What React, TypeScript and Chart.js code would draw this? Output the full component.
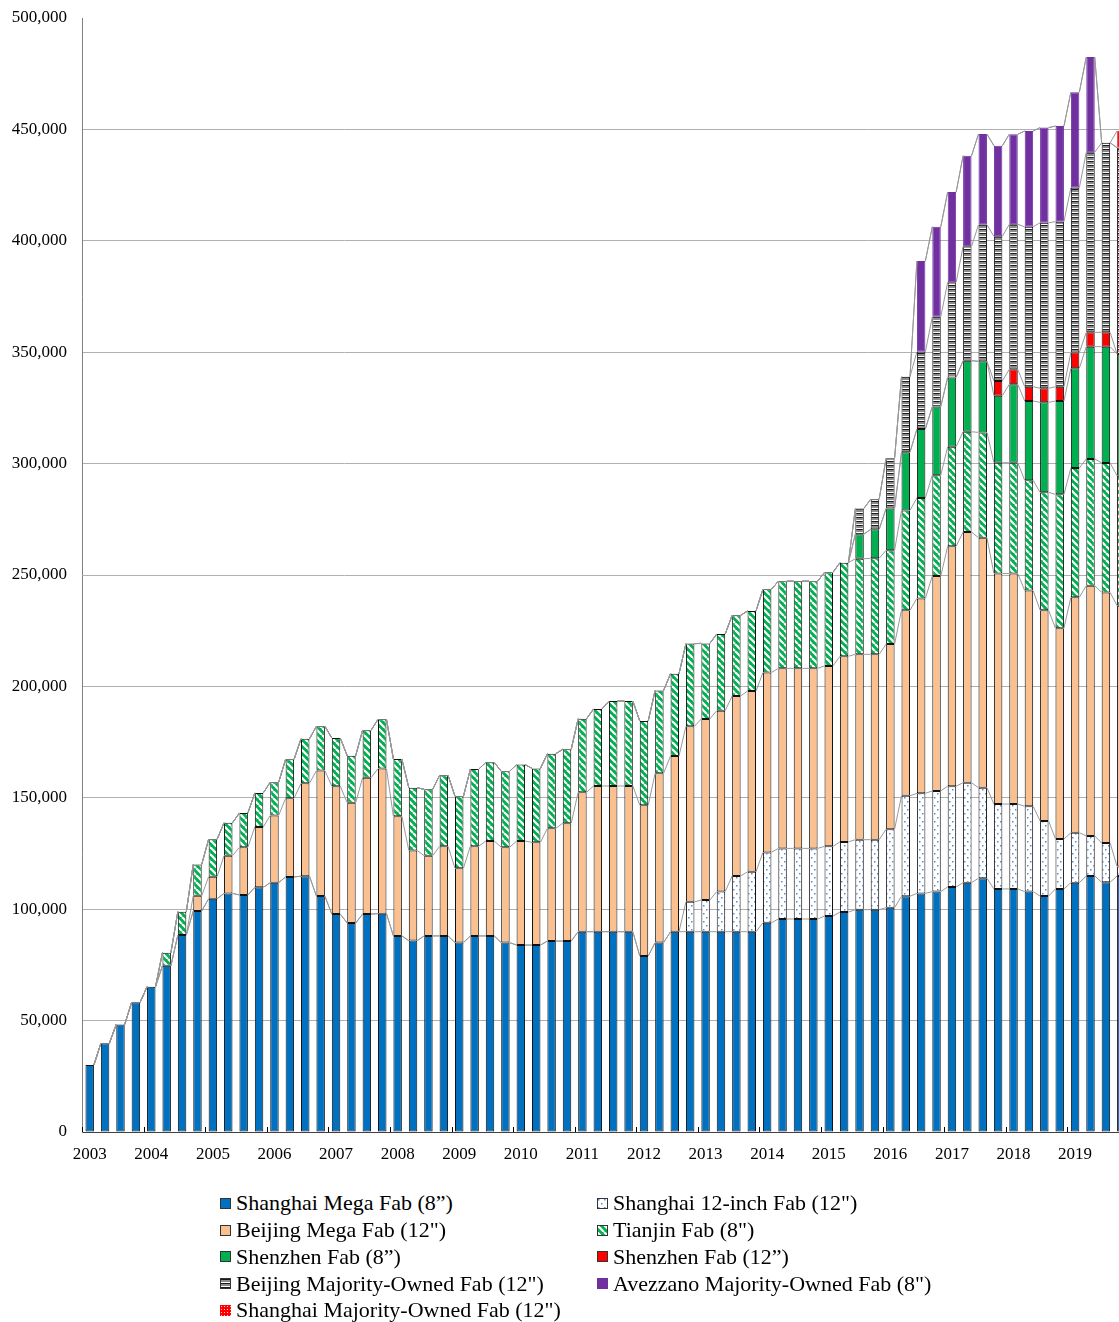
import React, { useEffect, useRef } from 'react';
import { Chart, registerables } from 'chart.js';

Chart.register(...registerables);

const gap = (n: number): (number | null)[] => Array(n).fill(null);

// ---------- data (wafer capacity, 8-inch equivalent wafers per month) ----------
const years = ['2003', '2004', '2005', '2006', '2007', '2008', '2009', '2010', '2011', '2012', '2013', '2014', '2015', '2016', '2017', '2018', '2019'];
const quarterNames = ['Q1', 'Q2', 'Q3', 'Q4'];
const categories = years.flatMap((y) => quarterNames.map((q) => `${y} ${q}`));

const yTickStep = 50000;
const yMax = 500000;

const shanghaiMega = [
  30100, 39800, 48300, 58200, 65200, 74600, 88400, 99200, 104700, 107100,
  106400, 109800, 111900, 114500, 114800, 105900, 97800, 93800, 97800, 98000,
  88000, 85900, 88000, 88000, 85000, 88000, 88000, 85000, 83900, 83900,
  85700, 85700, 89900, 89900, 89900, 89900, 79000, 85000, 89900, 89900,
  89900, 89900, 89900, 89900, 93900, 95600, 95600, 95600, 96900, 98700,
  99800, 99800, 100700, 105800, 107100, 107900, 110000, 111900, 113900, 109100,
  109100, 107900, 105900, 109100, 111900, 114900, 112100, 114900,
];

const shanghai12 = [
  ...gap(39),
  13400, 14200, 18000, 25000, 26900, 31600, 31700, 31700, 31700, 31300,
  31500, 31400, 31400, 35200, 45100, 44900, 45200, 45200, 44900, 40600,
  38100, 38100, 38300, 33700, 22400, 22400, 18000, 17600, 4300,
];

const beijingMega = [
  ...gap(7),
  6800, 9900, 16900, 21400, 27100, 30200, 35300, 41700, 56300, 57400,
  54000, 61200, 65100, 53700, 40400, 36000, 40200, 33400, 40300, 42600,
  42800, 46700, 46100, 50600, 52900, 62600, 65400, 65400, 65400, 67700,
  76000, 78900, 78800, 81300, 81200, 80800, 81100, 80700, 80800, 80800,
  80800, 81000, 83300, 83200, 83200, 83100, 83300, 87500, 96400, 107700,
  112500, 112200, 103500, 103500, 96800, 94600, 94600, 105700, 112300, 112500,
  117000,
];

const tianjin = [
  ...gap(5),
  5900, 10500, 14100, 16800, 14800, 15400, 15300, 14900, 17500, 20000,
  19900, 21600, 21100, 21300, 22100, 25700, 28200, 29800, 31900, 32300,
  34600, 35300, 34100, 34300, 33200, 33500, 33200, 33000, 34600, 38100,
  38100, 37800, 37200, 36900, 37100, 33900, 34400, 36200, 35900, 37400,
  39100, 39100, 39100, 42000, 42000, 42900, 43100, 42100, 44800, 45100,
  45300, 44700, 45000, 47300, 49700, 49700, 49500, 52900, 60100, 58000,
  56900, 58100, 58300,
];

const shenzhen8 = [
  ...gap(50),
  11000, 13000, 18800, 26100, 30900, 30800, 31100, 31900, 31900, 30100,
  35200, 35600, 40400, 41900, 44800, 50400, 52200, 54700,
];

const shenzhen12 = [...gap(59), 6600, 6700, 6400, 6300, 6400, 7100, 6400, 6400, null];

const beijingMajority = [
  ...gap(50),
  11500, 13500, 22500, 33900, 34700, 40300, 42700, 51300, 61300, 64900,
  65100, 71800, 74300, 74100, 73900, 80900, 85100, 92600,
];

const avezzano = [
  ...gap(54),
  40700, 40400, 40500, 40700, 40700, 40700, 40400, 43000, 42700, 42900, 42900, 42700,
  null, null,
];

const shanghaiMajority = [...gap(67), 7500];

// ---------- styles ----------
type Kind = 'solid' | 'dots' | 'diag' | 'hstripe' | 'checker';
interface SeriesDef {
  name: string;
  data: (number | null)[];
  kind: Kind;
  color: string;
  border: string;
}

const series: SeriesDef[] = [
  { name: 'Shanghai Mega Fab (8\u201d)', data: shanghaiMega, kind: 'solid', color: '#0070C0', border: '#111111' },
  { name: 'Shanghai 12-inch Fab (12")', data: shanghai12, kind: 'dots', color: '#5a8ad0', border: '#111111' },
  { name: 'Beijing Mega Fab (12")', data: beijingMega, kind: 'solid', color: '#FAC090', border: '#111111' },
  { name: 'Tianjin Fab (8")', data: tianjin, kind: 'diag', color: '#00B050', border: '#111111' },
  { name: 'Shenzhen Fab (8\u201d)', data: shenzhen8, kind: 'solid', color: '#00B050', border: '#111111' },
  { name: 'Shenzhen Fab (12\u201d)', data: shenzhen12, kind: 'solid', color: '#FF0000', border: '#111111' },
  { name: 'Beijing Majority-Owned Fab (12")', data: beijingMajority, kind: 'hstripe', color: '#8c8c8c', border: '#111111' },
  { name: 'Avezzano Majority-Owned Fab (8")', data: avezzano, kind: 'solid', color: '#7030A0', border: '#7030A0' },
  { name: 'Shanghai Majority-Owned Fab (12")', data: shanghaiMajority, kind: 'checker', color: '#FF0000', border: '#e04040' },
];

const FONT = '"Liberation Serif", "Times New Roman", serif';

function makeTile(kind: Kind, color: string): HTMLCanvasElement {
  const c = document.createElement('canvas');
  const g = c.getContext('2d')!;
  if (kind === 'dots') {
    c.width = 6; c.height = 8;
    g.fillStyle = '#ffffff'; g.fillRect(0, 0, 6, 8);
    g.fillStyle = color;
    g.fillRect(1, 1, 1.5, 1.5);
    g.fillRect(4, 5, 1.5, 1.5);
  } else if (kind === 'diag') {
    c.width = 7; c.height = 7;
    g.fillStyle = color; g.fillRect(0, 0, 7, 7);
    g.strokeStyle = '#ffffff'; g.lineWidth = 2.2;
    for (const x0 of [-7, 0, 7]) {
      g.beginPath(); g.moveTo(x0, 0); g.lineTo(x0 + 7, 7); g.stroke();
    }
  } else if (kind === 'hstripe') {
    c.width = 4; c.height = 4;
    const rows = ['#ffffff', '#1a1a1a', color, color];
    rows.forEach((r, i) => { g.fillStyle = r; g.fillRect(0, i, 4, 1); });
  } else if (kind === 'checker') {
    c.width = 3; c.height = 3;
    g.fillStyle = color; g.fillRect(0, 0, 3, 3);
    g.fillStyle = '#ffd0d0'; g.fillRect(1, 1, 1, 1);
  } else {
    c.width = 1; c.height = 1;
    g.fillStyle = color; g.fillRect(0, 0, 1, 1);
  }
  return c;
}

function makeFill(ctx: CanvasRenderingContext2D, s: SeriesDef): string | CanvasPattern {
  if (s.kind === 'solid') return s.color;
  return ctx.createPattern(makeTile(s.kind, s.color), 'repeat') as CanvasPattern;
}

// Excel-like series lines connecting the top of each stacked segment
const seriesLinesPlugin = {
  id: 'seriesLines',
  afterDatasetsDraw(chart: any) {
    const { ctx, scales } = chart;
    const y = scales.y;
    const n = chart.data.labels.length;
    const base = chart.getDatasetMeta(0).data;
    const cum: number[] = new Array(n).fill(0);
    ctx.save();
    ctx.strokeStyle = '#999999';
    ctx.lineWidth = 1;
    chart.data.datasets.forEach((ds: any) => {
      for (let i = 0; i < n; i++) cum[i] += ds.data[i] ?? 0;
      ctx.beginPath();
      for (let i = 0; i < n - 1; i++) {
        const a = base[i];
        const b = base[i + 1];
        ctx.moveTo(a.x + a.width / 2, y.getPixelForValue(cum[i]));
        ctx.lineTo(b.x - b.width / 2, y.getPixelForValue(cum[i + 1]));
      }
      ctx.stroke();
    });
    ctx.restore();
  },
};

// Year tick marks drawn inward from the category axis
const yearTicksPlugin = {
  id: 'yearTicks',
  afterDatasetsDraw(chart: any) {
    const { ctx, scales, chartArea } = chart;
    const x = scales.x;
    const n = chart.data.labels.length;
    const step = x.getPixelForValue(1) - x.getPixelForValue(0);
    ctx.save();
    ctx.strokeStyle = '#000000';
    ctx.lineWidth = 1;
    ctx.beginPath();
    for (let i = 0; i < n; i += quarterNames.length) {
      const bx = Math.round(x.getPixelForValue(i) - step / 2) + 0.5;
      ctx.moveTo(bx, chartArea.bottom);
      ctx.lineTo(bx, chartArea.bottom - 5);
    }
    ctx.stroke();
    ctx.restore();
  },
};

function Swatch({ def }: { def: SeriesDef }) {
  const ref = useRef<HTMLCanvasElement>(null);
  useEffect(() => {
    const c = ref.current!;
    const g = c.getContext('2d')!;
    g.clearRect(0, 0, c.width, c.height);
    g.fillStyle = makeFill(g, def) as any;
    g.fillRect(0, 0, c.width, c.height);
    if (def.kind !== 'checker' && def.border !== def.color) {
      g.strokeStyle = '#333333';
      g.lineWidth = 1;
      g.strokeRect(0.5, 0.5, c.width - 1, c.height - 1);
    }
  }, [def]);
  return <canvas ref={ref} width={11} height={11} style={{ display: 'block', marginRight: 5, flex: '0 0 auto' }} />;
}

export default function App() {
  const canvasRef = useRef<HTMLCanvasElement>(null);

  useEffect(() => {
    const canvas = canvasRef.current!;
    const ctx = canvas.getContext('2d')!;
    Chart.defaults.font.family = FONT;
    Chart.defaults.color = '#000000';
    const datasets = series.map((s) => ({
      label: s.name,
      data: s.data,
      backgroundColor: makeFill(ctx, s),
      borderColor: s.border,
      borderWidth: 1,
      borderSkipped: false as const,
      barPercentage: 0.55,
      categoryPercentage: 1,
      stack: 'fabs',
    }));
    const chart = new Chart(ctx, {
      type: 'bar',
      data: { labels: categories, datasets: datasets as any },
      options: {
        responsive: false,
        animation: false,
        layout: { padding: { left: 0, right: 11, top: 18, bottom: 0 } },
        plugins: { legend: { display: false }, tooltip: { enabled: false } },
        scales: {
          x: {
            stacked: true,
            grid: { display: false },
            border: { display: true, color: '#404040', width: 1 },
            ticks: {
              autoSkip: false,
              maxRotation: 0,
              minRotation: 0,
              padding: 4,
              color: '#000000',
              font: { size: 17, family: FONT },
              callback: (_v: any, i: number) => (i % quarterNames.length === 0 ? years[i / quarterNames.length] : ''),
            },
            afterFit: (s: any) => { s.height = 38; s.paddingLeft = 0; s.paddingRight = 0; },
          },
          y: {
            stacked: true,
            min: 0,
            max: yMax,
            ticks: {
              stepSize: yTickStep,
              padding: 15,
              color: '#000000',
              font: { size: 17, family: FONT },
              callback: (v: any) => Number(v).toLocaleString('en-US'),
            },
            grid: {
              drawTicks: false,
              color: (c: any) => (c.tick && c.tick.value === yMax ? 'rgba(0,0,0,0)' : '#b0b0b0'),
              lineWidth: 1,
            },
            border: { display: true, color: '#808080', width: 1 },
            afterFit: (s: any) => { s.width = 82; s.paddingTop = 0; s.paddingBottom = 0; },
          },
        },
      } as any,
      plugins: [seriesLinesPlugin, yearTicksPlugin],
    });
    return () => chart.destroy();
  }, []);

  return (
    <div style={{ position: 'fixed', left: 0, top: 0, width: 1119, height: 1322, overflow: 'hidden', background: '#ffffff' }}>
      <canvas
        ref={canvasRef}
        width={1140}
        height={1170}
        style={{ position: 'absolute', left: 0, top: 0, width: 1140, height: 1170, display: 'block' }}
      />
      <div
        style={{
          position: 'absolute',
          left: 220,
          top: 1190,
          display: 'grid',
          gridTemplateColumns: '377px 377px',
          gridAutoRows: '26.75px',
          fontFamily: FONT,
          fontSize: 22,
          color: '#000000',
        }}
      >
        {series.map((s) => (
          <div key={s.name} style={{ display: 'flex', alignItems: 'center', whiteSpace: 'nowrap' }}>
            <Swatch def={s} />
            <span>{s.name}</span>
          </div>
        ))}
      </div>
    </div>
  );
}
